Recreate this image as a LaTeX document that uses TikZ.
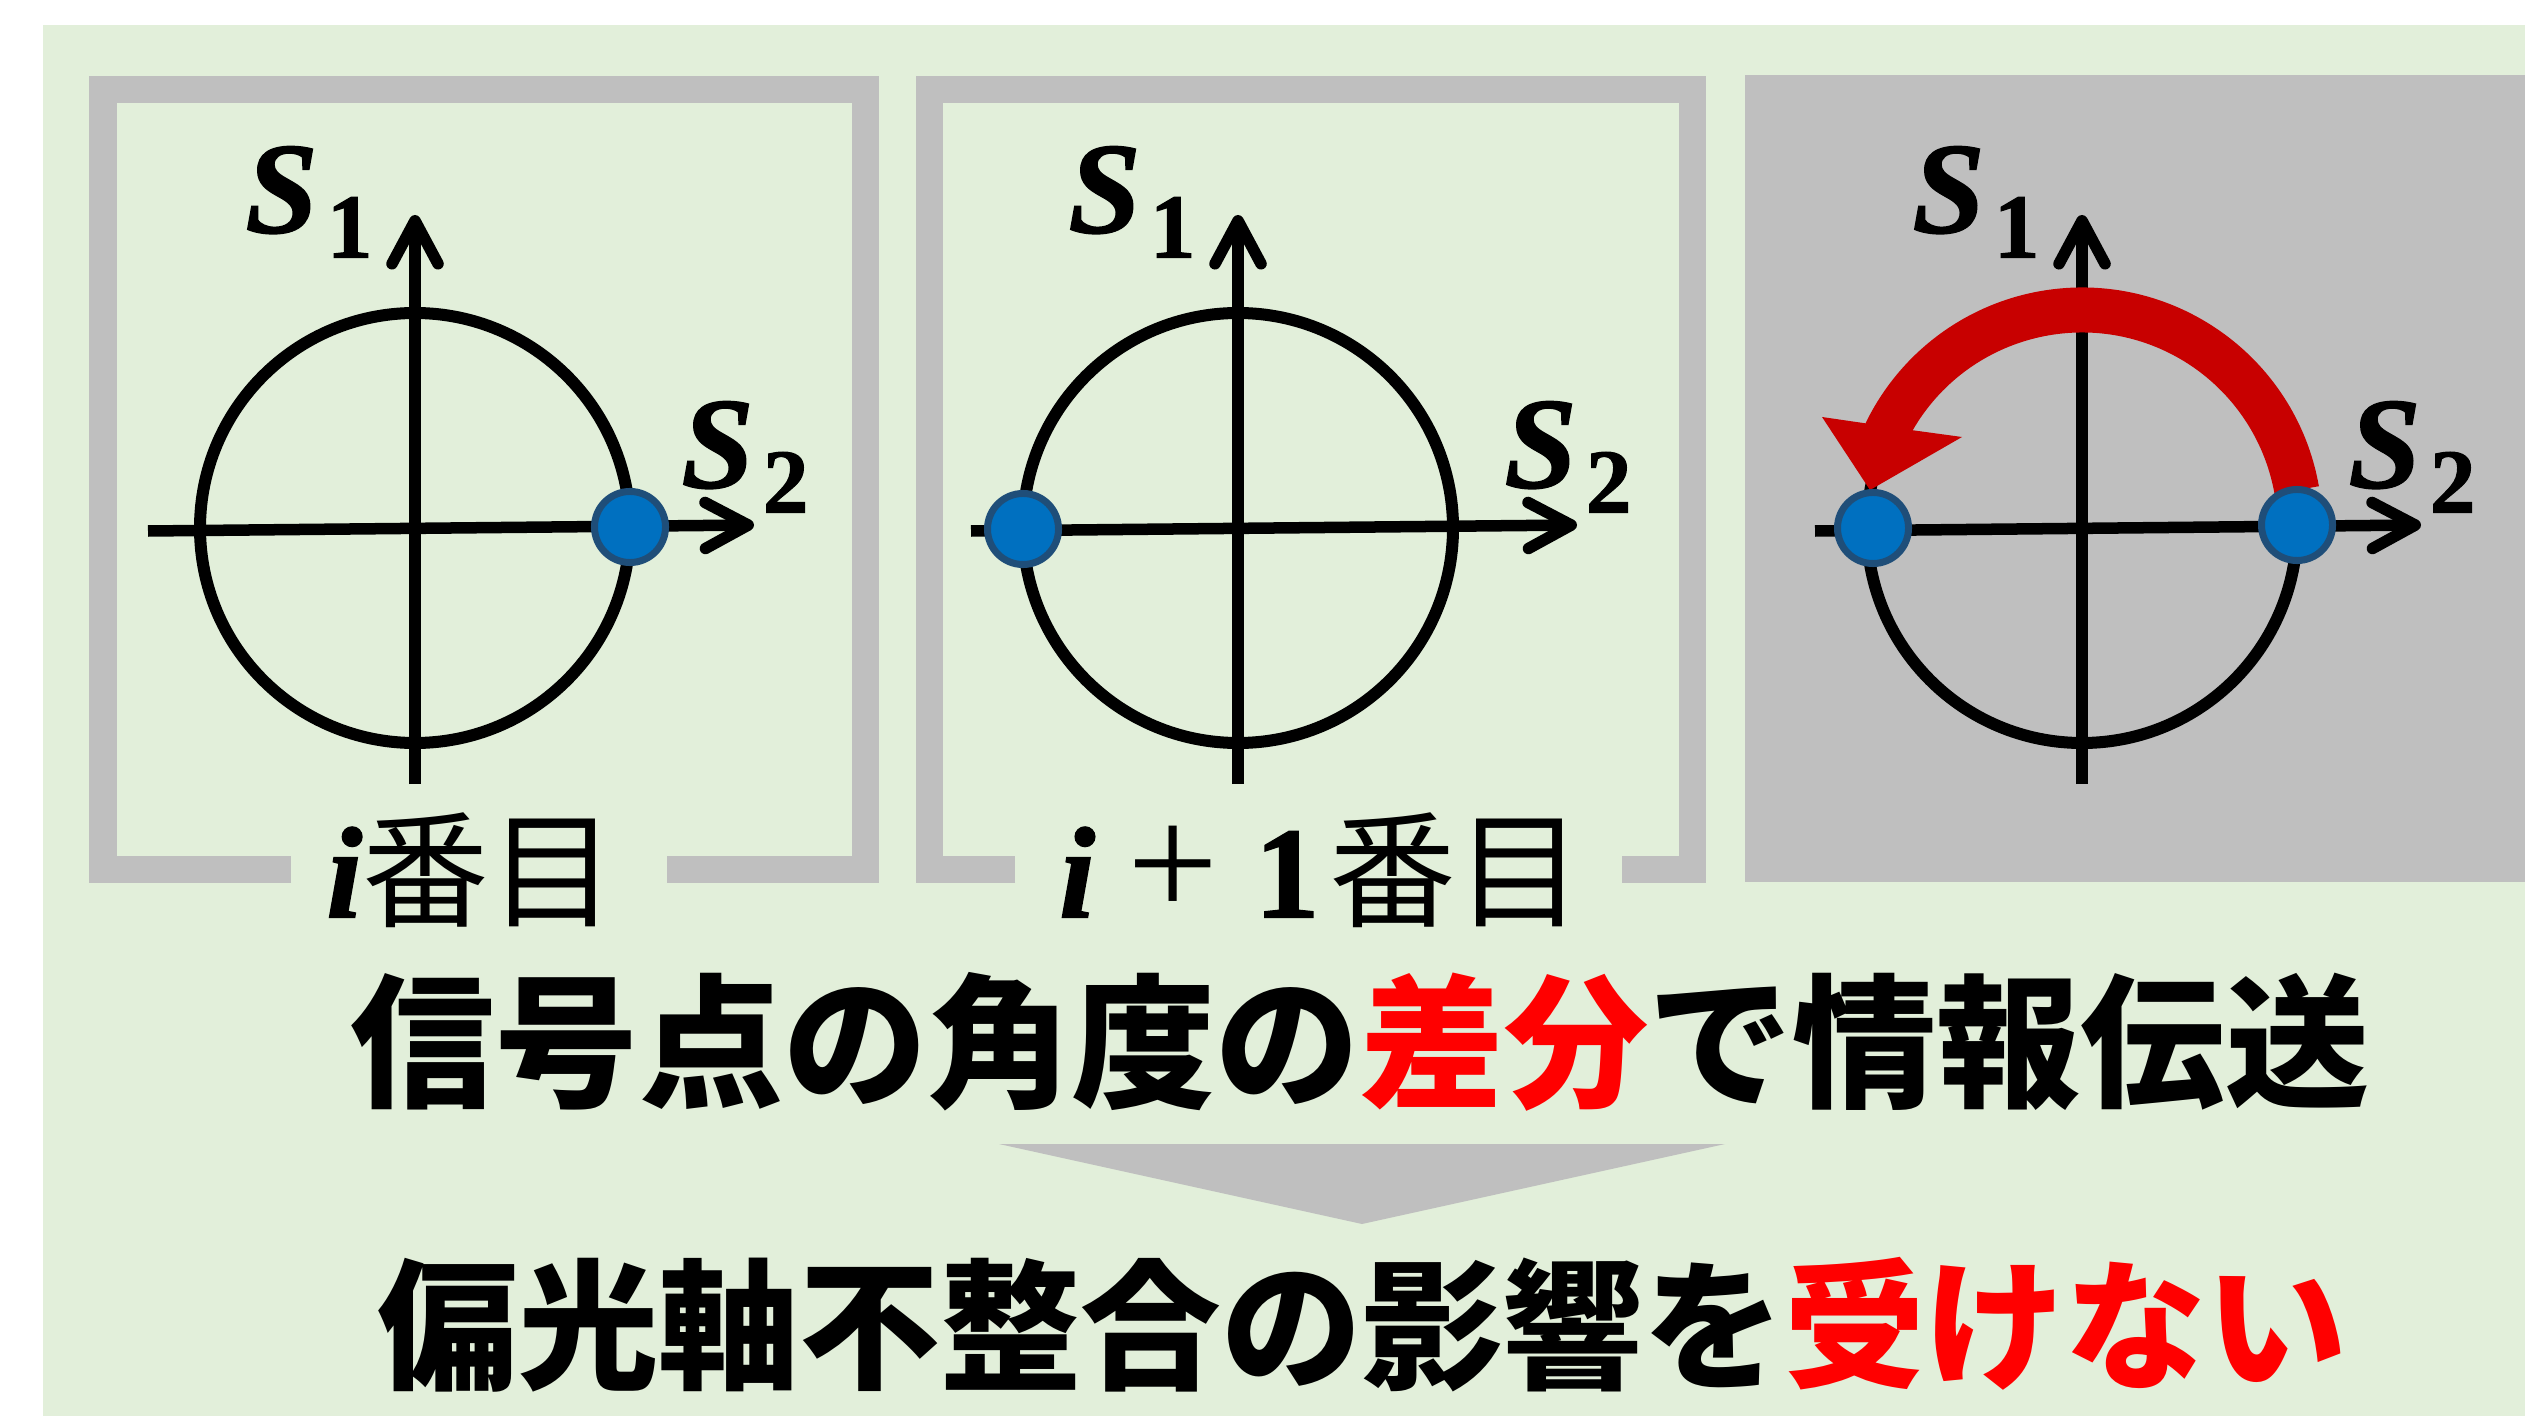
\documentclass[tikz,border=0pt]{standalone}
\usepackage{fontspec}
\usetikzlibrary{arrows.meta,calc}
\newfontfamily\cjk{Noto Sans CJK JP}
\newfontfamily\lserif{Liberation Serif}[BoldFeatures={FakeBold=1.2},BoldItalicFeatures={FakeBold=1.2}]
\definecolor{bg}{HTML}{E2EFDA}
\definecolor{framegray}{HTML}{BFBFBF}
\definecolor{dotfill}{HTML}{0070C0}
\definecolor{dotline}{HTML}{1F4E79}
\definecolor{arcred}{HTML}{C80000}
\definecolor{txtred}{HTML}{FF0000}
\newcommand\Slab[1]{{\lserif\fontsize{37}{40}\selectfont\bfseries\itshape S}\kern0.09cm\raisebox{-0.25cm}{\lserif\fontsize{26}{28}\selectfont\bfseries #1}}
\newcommand\mi{{\lserif\fontsize{37}{40}\selectfont\bfseries\itshape i}}
\begin{document}
\begin{tikzpicture}[x=0.01cm,y=-0.01cm,
  framestyle/.style={draw=framegray,line width=2.7mm},
  circstyle/.style={draw=black,line width=1.2mm},
  axisstyle/.style={draw=black,line width=1.15mm,-{Straight Barb[length=4.3mm,width=4.6mm,round]}},
  dotstyle/.style={circle,fill=dotfill,draw=dotline,line width=0.7mm,minimum size=7.1mm,inner sep=0},
  slabel/.style={inner sep=0},
  plabel/.style={inner sep=0,font=\cjk\fontsize{36}{40}\selectfont},
  mainline/.style={inner sep=0,font=\cjk\bfseries\fontsize{41}{48}\selectfont}]
\useasboundingbox (0,0) rectangle (2525,1416);
\fill[white] (0,0) rectangle (2525,1416);
\fill[bg] (43,25) rectangle (2525,1416);
% panel frames
\draw[framestyle] (291,869.5) -- (103,869.5) -- (103,89.5) -- (865.5,89.5) -- (865.5,869.5) -- (667,869.5);
\draw[framestyle] (1015,869.5) -- (929.5,869.5) -- (929.5,89.5) -- (1692.5,89.5) -- (1692.5,869.5) -- (1622,869.5);
\fill[framegray] (1745,75) rectangle (2525,882);
% diagrams
\foreach \cx/\n in {415/p1,1238/p2,2082/p3}{
  \coordinate (\n) at (\cx,528);
  \draw[circstyle] (\n) circle[radius=215];
  \coordinate (\n-hl) at ($(\n)+(-267,3)$);
  \coordinate (\n-hr) at ($(\n)+(339,-3)$);
  \coordinate (\n-vb) at ($(\n)+(0,256)$);
  \coordinate (\n-vt) at ($(\n)+(0,-313)$);
  \draw[axisstyle] (\n-hl) -- (\n-hr);
  \draw[axisstyle] (\n-vb) -- (\n-vt);
  \node[slabel] (\n-s1) at ($(\n)+(-106,-326)$) {\Slab{1}};
  \node[slabel] (\n-s2) at ($(\n)+(330,-71)$) {\Slab{2}};
}
% red rotation arrow
\fill[arcred] ($(p3)+(-10:240.5)$) arc[start angle=-10,end angle=-154.2,radius=240.5]
  -- (1822,417) -- (1870,490) -- (1962,437)
  -- ($(p3)+(-150:195.5)$) arc[start angle=-150,end angle=-10,radius=195.5] -- cycle;
% signal points
\node[dotstyle] (d1) at (630,527) {};
\node[dotstyle] (d2) at (1023,529) {};
\node[dotstyle] (d3a) at (1873,528) {};
\node[dotstyle] (d3b) at (2297,525) {};
% panel labels
\node[plabel] (l1) at (471,870) {\mi 番目};
\node[plabel] (l2) at (1321,870) {\mi\hspace{0.32cm}{\lserif\fontsize{46}{50}\selectfont +}\hspace{0.36cm}{\lserif\fontsize{37}{40}\selectfont\bfseries 1}\hspace{0.1cm}番目};
% main text
\node[mainline] (t1) at (1360,1042) {信号点の角度の\textcolor{txtred}{差分}で情報伝送};
\fill[framegray] (999,1144) -- (1725,1144) -- (1362,1224) -- cycle;
\node[mainline,font=\cjk\bfseries\fontsize{40}{48}\selectfont] (t2) at (1362,1325) {偏光軸不整合の影響を\textcolor{txtred}{受けない}};
\end{tikzpicture}
\end{document}
